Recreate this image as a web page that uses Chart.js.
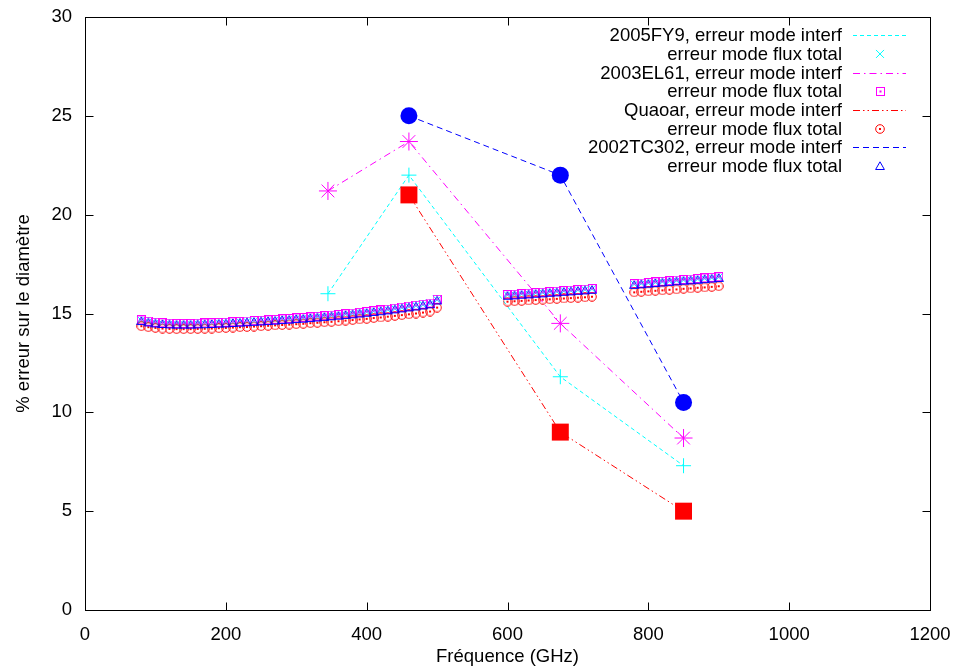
<!DOCTYPE html>
<html>
<head>
<meta charset="utf-8">
<script src="https://cdn.jsdelivr.net/npm/chart.js@4"></script>
<style>
  html, body { margin: 0; padding: 0; background: #fff; }
</style>
</head>
<body>
<canvas id="chart" width="956" height="671"></canvas>
<script>
// interferometric mode error, one point per band
const interfFreqs = [345, 460, 675, 850];
const fy9Interf = [16.0, 22.0, 11.8, 7.3];
const el61Interf = [21.2, 23.7, 14.5, 8.7];
const quaoarInterf = [null, 21.0, 9.0, 5.0];
const tc302Interf = [null, 25.0, 22.0, 10.5];

// total flux mode error, sampled every 10 GHz in three bands
const fluxFreqs = [
  80, 90, 100, 110, 120, 130, 140, 150, 160, 170, 180, 190, 200, 210, 220, 230, 240, 250, 260, 270, 280, 290,
  300, 310, 320, 330, 340, 350, 360, 370, 380, 390, 400, 410, 420, 430, 440, 450, 460, 470, 480, 490, 500,
  600, 610, 620, 630, 640, 650, 660, 670, 680, 690, 700, 710, 720,
  780, 790, 800, 810, 820, 830, 840, 850, 860, 870, 880, 890, 900
];
const fy9Flux = [
  14.65, 14.58, 14.53, 14.50, 14.48, 14.47, 14.47, 14.47, 14.48, 14.49, 14.50, 14.52, 14.53, 14.55, 14.57, 14.59, 14.61, 14.63, 14.65, 14.67, 14.70, 14.72,
  14.75, 14.77, 14.80, 14.83, 14.86, 14.89, 14.92, 14.96, 14.99, 15.03, 15.07, 15.11, 15.15, 15.19, 15.24, 15.29, 15.34, 15.39, 15.44, 15.50, 15.69,
  15.93, 15.95, 15.98, 16.00, 16.03, 16.05, 16.08, 16.10, 16.13, 16.15, 16.18, 16.20, 16.23,
  16.48, 16.51, 16.54, 16.57, 16.60, 16.63, 16.66, 16.69, 16.71, 16.74, 16.77, 16.80, 16.83
];
const el61Flux = [
  14.68, 14.61, 14.56, 14.53, 14.51, 14.50, 14.50, 14.50, 14.51, 14.52, 14.53, 14.55, 14.56, 14.58, 14.60, 14.62, 14.64, 14.66, 14.68, 14.70, 14.73, 14.75,
  14.78, 14.80, 14.83, 14.86, 14.89, 14.92, 14.95, 14.99, 15.02, 15.06, 15.10, 15.14, 15.18, 15.22, 15.27, 15.32, 15.37, 15.42, 15.47, 15.53, 15.72,
  15.96, 15.98, 16.01, 16.03, 16.06, 16.08, 16.11, 16.13, 16.16, 16.18, 16.21, 16.23, 16.26,
  16.51, 16.54, 16.57, 16.60, 16.63, 16.66, 16.69, 16.72, 16.74, 16.77, 16.80, 16.83, 16.86
];
const quaoarFlux = [
  14.36, 14.31, 14.27, 14.24, 14.22, 14.21, 14.21, 14.21, 14.22, 14.23, 14.24, 14.26, 14.27, 14.29, 14.31, 14.32, 14.34, 14.36, 14.38, 14.40, 14.42, 14.44,
  14.46, 14.48, 14.51, 14.53, 14.56, 14.58, 14.61, 14.64, 14.67, 14.70, 14.73, 14.77, 14.80, 14.84, 14.88, 14.92, 14.96, 15.00, 15.05, 15.10, 15.30,
  15.60, 15.62, 15.64, 15.66, 15.68, 15.70, 15.72, 15.74, 15.76, 15.78, 15.80, 15.82, 15.85,
  16.07, 16.10, 16.12, 16.15, 16.17, 16.20, 16.22, 16.25, 16.27, 16.30, 16.32, 16.35, 16.38
];
const tc302Flux = [
  14.62, 14.55, 14.50, 14.47, 14.45, 14.44, 14.44, 14.44, 14.45, 14.46, 14.47, 14.49, 14.50, 14.52, 14.54, 14.56, 14.58, 14.60, 14.62, 14.64, 14.67, 14.69,
  14.72, 14.74, 14.77, 14.80, 14.83, 14.86, 14.89, 14.93, 14.96, 15.00, 15.04, 15.08, 15.12, 15.16, 15.21, 15.26, 15.31, 15.36, 15.41, 15.47, 15.66,
  15.90, 15.92, 15.95, 15.97, 16.00, 16.02, 16.05, 16.07, 16.10, 16.12, 16.15, 16.17, 16.20,
  16.45, 16.48, 16.51, 16.54, 16.57, 16.60, 16.63, 16.66, 16.68, 16.71, 16.74, 16.77, 16.80
];

const xTicks = [0, 200, 400, 600, 800, 1000, 1200];
const yTicks = [0, 5, 10, 15, 20, 25, 30];

const CYAN = '#00ffff', MAGENTA = '#ff00ff', RED = '#ff0000', BLUE = '#0000ff';
const FONT = '"Liberation Sans", Arial, sans-serif';
const FS = 18.5;

// small hollow markers with a centre dot, like gnuplot's
function marker(kind, color) {
  const s = kind === 'rect' ? 9 : 10;
  const c = document.createElement('canvas');
  c.width = c.height = s;
  const g = c.getContext('2d');
  g.strokeStyle = color;
  g.fillStyle = color;
  g.lineWidth = 1;
  const m = s / 2;
  if (kind === 'rect') g.strokeRect(0.5, 0.5, s - 1, s - 1);
  else if (kind === 'circle') { g.beginPath(); g.arc(m, m, m - 0.7, 0, Math.PI * 2); g.stroke(); }
  else {
    g.beginPath();
    g.moveTo(m, 0.8); g.lineTo(s - 0.6, s - 1.5); g.lineTo(0.6, s - 1.5); g.closePath();
    g.stroke();
  }
  if (kind !== 'tri') g.fillRect(m - 1, m - 1, 2, 2);
  return c;
}
const boxDot = marker('rect', MAGENTA);
const circDot = marker('circle', RED);
const triMark = marker('tri', BLUE);

const pts = (xs, ys) => xs.map((x, i) => ({ x, y: ys[i] }));

const series = [
  { data: pts(interfFreqs, fy9Interf), borderColor: CYAN, backgroundColor: CYAN, borderDash: [4, 3], showLine: true,
    pointStyle: 'cross', pointRadius: 7.5 },
  { data: pts(fluxFreqs, fy9Flux), borderColor: CYAN, backgroundColor: CYAN, showLine: false,
    pointStyle: 'crossRot', pointRadius: 6 },
  { data: pts(interfFreqs, el61Interf), borderColor: MAGENTA, backgroundColor: MAGENTA, borderDash: [7, 4, 1.5, 4], showLine: true,
    pointStyle: 'star', pointRadius: 9 },
  { data: pts(fluxFreqs, el61Flux), borderColor: MAGENTA, showLine: false, pointStyle: boxDot },
  { data: pts(interfFreqs, quaoarInterf), borderColor: RED, backgroundColor: RED, borderDash: [7, 3, 1.5, 3, 1.5, 3], showLine: true,
    pointStyle: 'rect', pointRadius: 12, pointBorderWidth: 0 },
  { data: pts(fluxFreqs, quaoarFlux), borderColor: RED, showLine: false, pointStyle: circDot },
  { data: pts(interfFreqs, tc302Interf), borderColor: BLUE, backgroundColor: BLUE, borderDash: [6, 4], showLine: true,
    pointStyle: 'circle', pointRadius: 8.5, pointBorderWidth: 0 },
  { data: pts(fluxFreqs, tc302Flux), borderColor: BLUE, showLine: false, pointStyle: triMark }
];
series.forEach((d, i) => {
  d.borderWidth = 1;
  d.order = series.length - i;
  d.pointHoverRadius = d.pointRadius;
});

const legendRows = [
  { text: '2005FY9, erreur mode interf', color: CYAN, dash: [4, 3] },
  { text: 'erreur mode flux total', color: CYAN, mark: 'x' },
  { text: '2003EL61, erreur mode interf', color: MAGENTA, dash: [7, 4, 1.5, 4] },
  { text: 'erreur mode flux total', color: MAGENTA, mark: boxDot },
  { text: 'Quaoar, erreur mode interf', color: RED, dash: [7, 3, 1.5, 3, 1.5, 3] },
  { text: 'erreur mode flux total', color: RED, mark: circDot },
  { text: '2002TC302, erreur mode interf', color: BLUE, dash: [6, 4] },
  { text: 'erreur mode flux total', color: BLUE, mark: triMark }
];

// gnuplot style frame: border plus inward ticks on all four sides
const frame = {
  id: 'frame',
  afterDraw(chart) {
    const { ctx, chartArea: a, scales: { x, y } } = chart;
    const L = Math.round(a.left) + 0.5, R = Math.round(a.right) + 0.5;
    const T = Math.round(a.top) + 0.5, B = Math.round(a.bottom) + 0.5;
    const t = 8;
    ctx.save();
    ctx.strokeStyle = '#000';
    ctx.lineWidth = 1;
    ctx.setLineDash([]);
    ctx.strokeRect(L, T, R - L, B - T);
    ctx.beginPath();
    xTicks.forEach(v => {
      const px = Math.round(x.getPixelForValue(v)) + 0.5;
      ctx.moveTo(px, B); ctx.lineTo(px, B - t);
      ctx.moveTo(px, T); ctx.lineTo(px, T + t);
    });
    yTicks.forEach(v => {
      const py = Math.round(y.getPixelForValue(v)) + 0.5;
      ctx.moveTo(L, py); ctx.lineTo(L + t, py);
      ctx.moveTo(R, py); ctx.lineTo(R - t, py);
    });
    ctx.stroke();

    // key, text right aligned left of the sample
    ctx.font = FS + 'px ' + FONT;
    ctx.textAlign = 'right';
    ctx.textBaseline = 'middle';
    legendRows.forEach((row, i) => {
      const ry = 35.3 + i * 18.65;
      ctx.fillStyle = '#000';
      ctx.fillText(row.text, 842, ry + 1);
      ctx.lineWidth = 1;
      ctx.strokeStyle = row.color;
      if (row.dash) {
        ctx.setLineDash(row.dash);
        ctx.beginPath();
        ctx.moveTo(853, Math.round(ry) + 0.5);
        ctx.lineTo(906, Math.round(ry) + 0.5);
        ctx.stroke();
        ctx.setLineDash([]);
      } else if (row.mark === 'x') {
        ctx.beginPath();
        ctx.moveTo(876, ry - 4); ctx.lineTo(884, ry + 4);
        ctx.moveTo(876, ry + 4); ctx.lineTo(884, ry - 4);
        ctx.stroke();
      } else {
        const m = row.mark;
        ctx.drawImage(m, Math.round(880 - m.width / 2), Math.round(ry - m.height / 2));
      }
    });
    ctx.restore();
  }
};

new Chart(document.getElementById('chart'), {
  type: 'scatter',
  data: { datasets: series },
  options: {
    responsive: false,
    animation: false,
    layout: { padding: { top: 17, right: 26, left: 0, bottom: 0 } },
    plugins: { legend: { display: false }, tooltip: { enabled: false } },
    scales: {
      x: {
        type: 'linear',
        min: 0,
        max: 1200,
        afterFit: s => { s.height = 61; s.paddingLeft = 0; s.paddingRight = 0; },
        afterBuildTicks: s => { s.ticks = xTicks.map(v => ({ value: v })); },
        grid: { display: false },
        border: { display: false },
        ticks: { color: '#000', padding: 5.5, maxRotation: 0, font: { family: FONT, size: FS }, callback: v => String(v) },
        title: {
          display: true,
          text: 'Fréquence (GHz)',
          color: '#000',
          padding: { bottom: 3 },
          font: { family: FONT, size: FS }
        }
      },
      y: {
        type: 'linear',
        min: 0,
        max: 30,
        afterFit: s => { s.width = 85; s.paddingTop = 0; s.paddingBottom = 0; },
        afterBuildTicks: s => { s.ticks = yTicks.map(v => ({ value: v })); },
        grid: { display: false },
        border: { display: false },
        ticks: { color: '#000', padding: 5, font: { family: FONT, size: FS }, callback: v => String(v) },
        title: {
          display: true,
          text: '% erreur sur le diamètre',
          color: '#000',
          padding: { top: 13 },
          font: { family: FONT, size: FS }
        }
      }
    }
  },
  plugins: [frame]
});
</script>
</body>
</html>
